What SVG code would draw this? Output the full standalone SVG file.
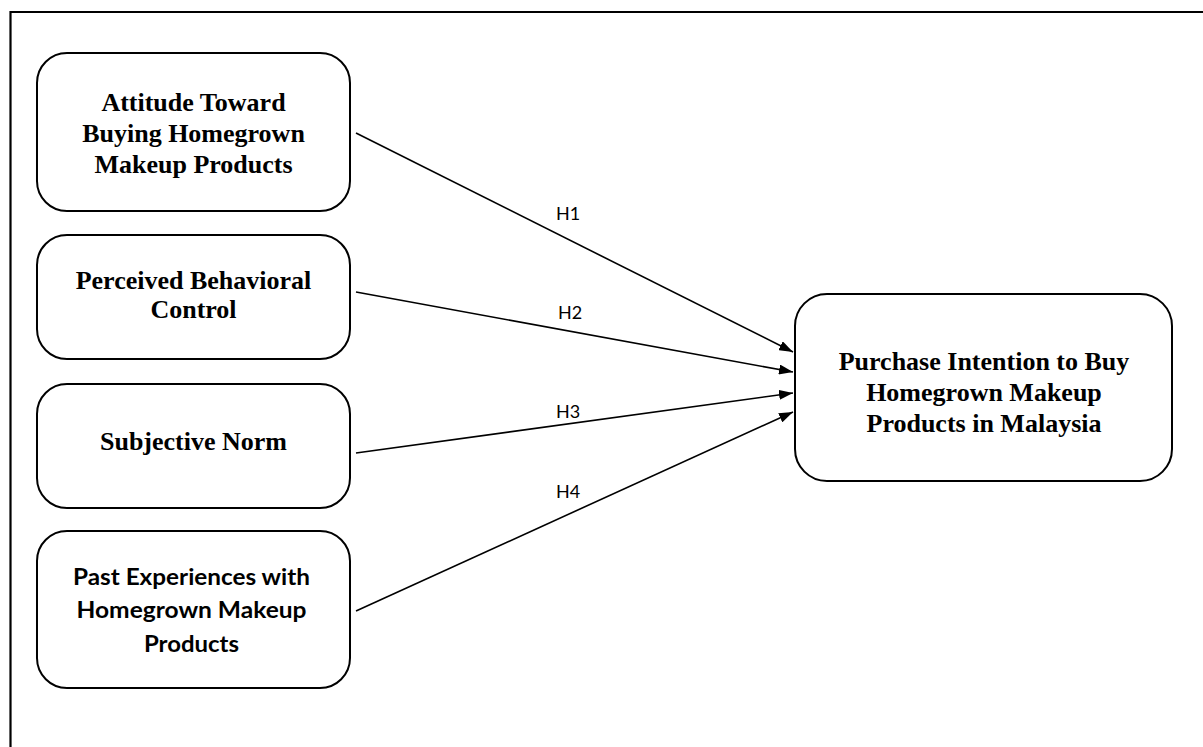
<svg xmlns="http://www.w3.org/2000/svg" width="1203" height="747" viewBox="0 0 1203 747">
<style>
.box{fill:#fff;stroke:#000;stroke-width:2}
.t{font-family:"Liberation Serif","Times New Roman",serif;font-weight:bold;font-size:26px;text-anchor:middle;fill:#000}
.c{font-family:Lato,"Open Sans",sans-serif;font-weight:bold;font-size:23px;text-anchor:middle;fill:#000}
.h{font-family:Lato,"Open Sans",sans-serif;font-size:18px;text-anchor:middle;fill:#000}
.e{stroke:#000;stroke-width:1.6;fill:none;marker-end:url(#ah)}
</style>
<defs>
<marker id="ah" markerUnits="userSpaceOnUse" markerWidth="14" markerHeight="10" refX="14" refY="5" orient="auto">
<path d="M0,0 L14,5 L0,10 Z" fill="#000"/>
</marker>
</defs>
<rect width="1203" height="747" fill="#fff"/>
<path d="M10.5,747 L10.5,12 L1203,12" fill="none" stroke="#000" stroke-width="2.2"/>
<g id="n1">
<rect class="box" x="37" y="53" width="313" height="158" rx="30"/>
<text class="t" x="193.5" y="111">Attitude Toward</text>
<text class="t" x="193.5" y="142">Buying Homegrown</text>
<text class="t" x="193.5" y="173">Makeup Products</text>
</g>
<g id="n2">
<rect class="box" x="37" y="235" width="313" height="124" rx="30"/>
<text class="t" x="193.5" y="289">Perceived Behavioral</text>
<text class="t" x="193.5" y="318">Control</text>
</g>
<g id="n3">
<rect class="box" x="37" y="384" width="313" height="124" rx="30"/>
<text class="t" x="193.5" y="450">Subjective Norm</text>
</g>
<g id="n4">
<rect class="box" x="37" y="531" width="313" height="157" rx="30"/>
<text class="c" x="191.5" y="585" textLength="237" lengthAdjust="spacingAndGlyphs">Past Experiences with</text>
<text class="c" x="191.5" y="618" textLength="230" lengthAdjust="spacingAndGlyphs">Homegrown Makeup</text>
<text class="c" x="191.5" y="652" textLength="95" lengthAdjust="spacingAndGlyphs">Products</text>
</g>
<g id="n5">
<rect class="box" x="795" y="294" width="377" height="187" rx="32"/>
<text class="t" x="984" y="370">Purchase Intention to Buy</text>
<text class="t" x="984" y="401">Homegrown Makeup</text>
<text class="t" x="984" y="432">Products in Malaysia</text>
</g>
<g id="connectors">
<line class="e" x1="356" y1="133" x2="793" y2="352"/>
<line class="e" x1="356" y1="292" x2="793" y2="372"/>
<line class="e" x1="356" y1="453" x2="793" y2="393"/>
<line class="e" x1="356" y1="611" x2="793" y2="412"/>
<text class="h" x="568" y="220">H1</text>
<text class="h" x="570" y="319">H2</text>
<text class="h" x="568" y="418">H3</text>
<text class="h" x="568" y="498">H4</text>
</g>
</svg>
